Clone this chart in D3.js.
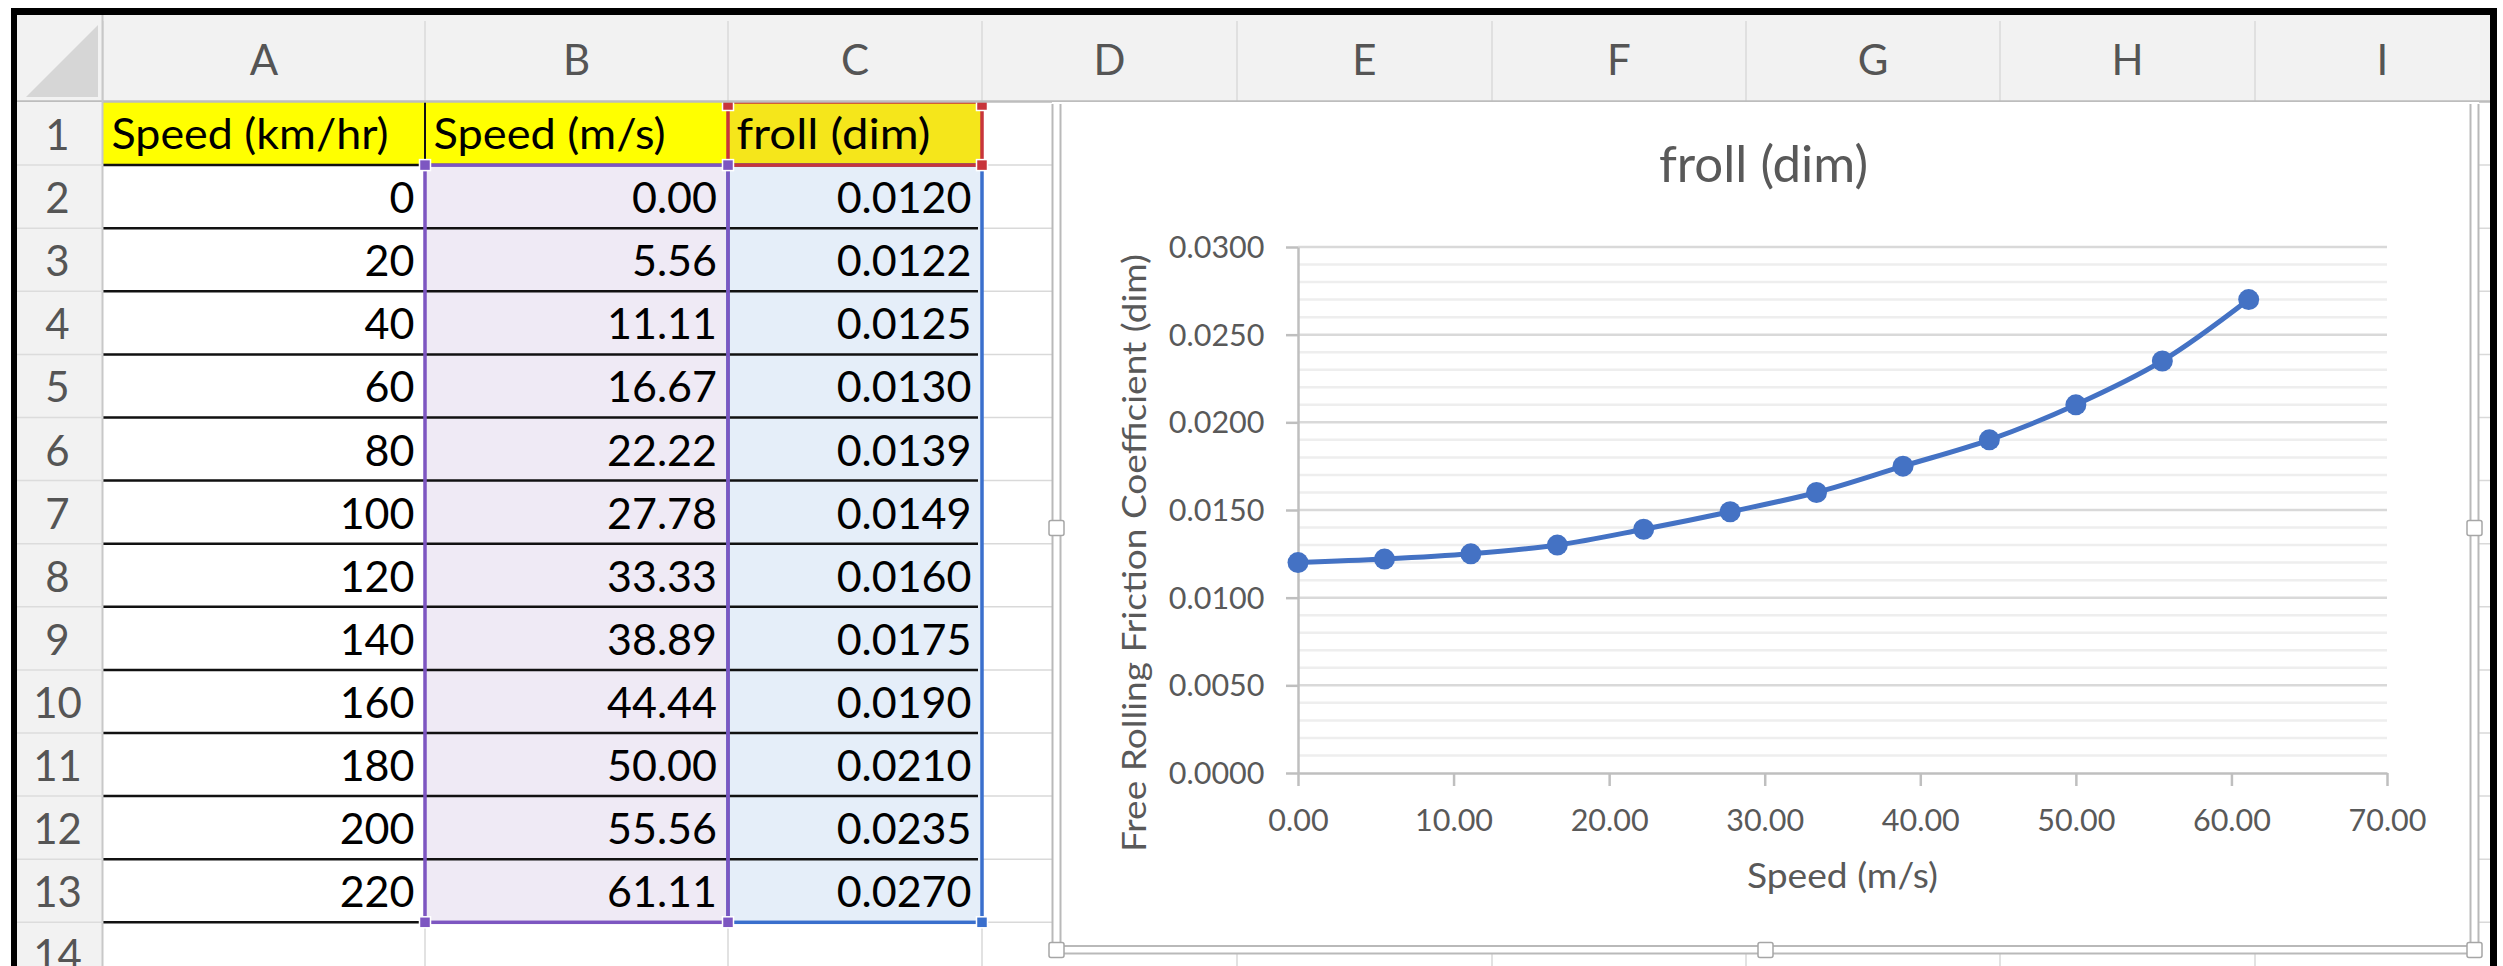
<!DOCTYPE html>
<html>
<head>
<meta charset="utf-8">
<script src="https://cdn.jsdelivr.net/npm/d3@7"></script>
<style>
  html, body { margin: 0; padding: 0; background: #fff; overflow: hidden; }
  svg { display: block; }
</style>
</head>
<body>
<svg id="sheet" width="2503" height="966"></svg>
<script>
// ---- worksheet data ----
const speedKmh = [0, 20, 40, 60, 80, 100, 120, 140, 160, 180, 200, 220];
const speedMs = [0.00, 5.56, 11.11, 16.67, 22.22, 27.78, 33.33, 38.89, 44.44, 50.00, 55.56, 61.11];
const froll = [0.0120, 0.0122, 0.0125, 0.0130, 0.0139, 0.0149, 0.0160, 0.0175, 0.0190, 0.0210, 0.0235, 0.0270];
const columnHeaders = ["Speed (km/hr)", "Speed (m/s)", "froll (dim)"];
const columnLetters = ["A", "B", "C", "D", "E", "F", "G", "H", "I"];
const chartTitle = "froll (dim)";
const xAxisTitle = "Speed (m/s)";
const yAxisTitle = "Free Rolling Friction Coefficient (dim)";
const xTickValues = [0, 10, 20, 30, 40, 50, 60, 70];
const yTickValues = [0, 0.005, 0.010, 0.015, 0.020, 0.025, 0.030];

// ---- layout ----
const W = 2503, H = 966;
const FONT = "Lato, 'Open Sans', sans-serif";
const svg = d3.select("#sheet");

const colEdges = [103, 425, 728, 982, 1237, 1492, 1746, 2000, 2255, 2510];
const sheetLeft = 17, sheetRight = 2490;
const headTop = 15, headBottom = 102, rowH = 63.1;
const rowTop = r => headBottom + (r - 1) * rowH;   // r = 1-based row number
const nRows = speedKmh.length + 1;                   // header row + data rows

svg.append("rect").attr("width", W).attr("height", H).attr("fill", "#fff");

// ---- cell area ----
const cells = svg.append("g");
cells.append("rect")
  .attr("x", colEdges[0]).attr("y", headBottom)
  .attr("width", sheetRight - colEdges[0]).attr("height", H - headBottom)
  .attr("fill", "#fff");

// light gridlines
cells.selectAll("line.vgrid")
  .data(colEdges.slice(1).filter(x => x < sheetRight))
  .join("line").attr("class", "vgrid")
  .attr("x1", d => d).attr("x2", d => d)
  .attr("y1", headBottom).attr("y2", H)
  .attr("stroke", "#d9d9d9").attr("stroke-width", 1.5);
cells.selectAll("line.hgrid")
  .data(d3.range(2, 16))
  .join("line").attr("class", "hgrid")
  .attr("x1", colEdges[0]).attr("x2", sheetRight)
  .attr("y1", d => rowTop(d)).attr("y2", d => rowTop(d))
  .attr("stroke", "#d9d9d9").attr("stroke-width", 1.5);

// fills
cells.append("rect").attr("x", colEdges[0]).attr("y", rowTop(1))
  .attr("width", colEdges[2] - colEdges[0]).attr("height", rowH).attr("fill", "#ffff00");
cells.append("rect").attr("x", colEdges[2]).attr("y", rowTop(1))
  .attr("width", colEdges[3] - colEdges[2]).attr("height", rowH).attr("fill", "#f5e61b");
cells.append("rect").attr("x", colEdges[1]).attr("y", rowTop(2))
  .attr("width", colEdges[2] - colEdges[1]).attr("height", rowTop(nRows + 1) - rowTop(2))
  .attr("fill", "#efeaf5");
cells.append("rect").attr("x", colEdges[2]).attr("y", rowTop(2))
  .attr("width", colEdges[3] - colEdges[2]).attr("height", rowTop(nRows + 1) - rowTop(2))
  .attr("fill", "#e5eef9");

// black cell borders under each row of the table
cells.selectAll("line.border")
  .data(d3.range(2, nRows + 2))
  .join("line").attr("class", "border")
  .attr("x1", colEdges[0]).attr("x2", colEdges[3] - 4)
  .attr("y1", d => rowTop(d)).attr("y2", d => rowTop(d))
  .attr("stroke", "#111").attr("stroke-width", 2.5);
cells.append("line")
  .attr("x1", colEdges[1]).attr("x2", colEdges[1])
  .attr("y1", rowTop(1)).attr("y2", rowTop(2))
  .attr("stroke", "#111").attr("stroke-width", 2);

// header texts
const headerWidths = [277, 232, 194];
cells.selectAll("text.head")
  .data(columnHeaders)
  .join("text").attr("class", "head")
  .attr("x", (d, i) => colEdges[i] + 8.5)
  .attr("y", rowTop(1) + 46.5)
  .attr("textLength", (d, i) => headerWidths[i])
  .attr("lengthAdjust", "spacingAndGlyphs")
  .attr("font-family", FONT).attr("font-size", 43).attr("fill", "#000")
  .text(d => d);

// numeric columns
const tableCols = [
  { values: speedKmh, fmt: d3.format("d"), right: colEdges[1] - 10.5 },
  { values: speedMs, fmt: d3.format(".2f"), right: colEdges[2] - 11 },
  { values: froll, fmt: d3.format(".4f"), right: colEdges[3] - 10.5 }
];
tableCols.forEach(col => {
  cells.append("g").selectAll("text")
    .data(col.values)
    .join("text")
    .attr("x", col.right)
    .attr("y", (d, i) => rowTop(i + 2) + 48)
    .attr("text-anchor", "end")
    .attr("font-family", FONT).attr("font-size", 43).attr("fill", "#000")
    .text(d => col.fmt(d));
});

// highlighted source ranges of the chart
const lastLine = rowTop(nRows + 1);
function rangeBox(x0, x1, y0, y1, color) {
  cells.append("rect")
    .attr("x", x0).attr("y", y0).attr("width", x1 - x0).attr("height", y1 - y0)
    .attr("fill", "none").attr("stroke", color).attr("stroke-width", 3.5);
}
function handles(points, color) {
  cells.append("g").selectAll("rect")
    .data(points).join("rect")
    .attr("x", d => d[0] - 5.5).attr("y", d => d[1] - 5.5)
    .attr("width", 11).attr("height", 11)
    .attr("fill", color).attr("stroke", "#fff").attr("stroke-width", 1.5);
}
const blue = "#3a6fcd", purple = "#7d56c1", red = "#c8353b";
rangeBox(colEdges[2], colEdges[3], rowTop(2), lastLine, blue);
rangeBox(colEdges[2], colEdges[3], rowTop(1), rowTop(2), red);
rangeBox(colEdges[1], colEdges[2], rowTop(2), lastLine, purple);
handles([[colEdges[3], lastLine]], blue);
handles([[colEdges[2], rowTop(1) + 3], [colEdges[3], rowTop(1) + 3], [colEdges[3], rowTop(2)]], red);
handles([[colEdges[1], rowTop(2)], [colEdges[2], rowTop(2)], [colEdges[1], lastLine], [colEdges[2], lastLine]], purple);

// ---- column header band ----
const head = svg.append("g");
head.append("rect").attr("x", sheetLeft).attr("y", headTop)
  .attr("width", sheetRight - sheetLeft).attr("height", headBottom - headTop)
  .attr("fill", "#f2f2f2");
head.selectAll("line.sep")
  .data(colEdges.filter(x => x < sheetRight))
  .join("line").attr("class", "sep")
  .attr("x1", d => d).attr("x2", d => d)
  .attr("y1", headTop + 6).attr("y2", headBottom)
  .attr("stroke", "#dadada").attr("stroke-width", 1.5);
head.selectAll("text")
  .data(columnLetters)
  .join("text")
  .attr("x", (d, i) => (colEdges[i] + colEdges[i + 1]) / 2)
  .attr("y", 75)
  .attr("text-anchor", "middle")
  .attr("font-family", FONT).attr("font-size", 42).attr("fill", "#555")
  .text(d => d);
head.append("line")
  .attr("x1", sheetLeft).attr("x2", sheetRight)
  .attr("y1", headBottom - 0.5).attr("y2", headBottom - 0.5)
  .attr("stroke", "#bdbdbd").attr("stroke-width", 2.5);

// ---- row header column ----
const rowsHead = svg.append("g");
rowsHead.append("rect").attr("x", sheetLeft).attr("y", headBottom)
  .attr("width", colEdges[0] - sheetLeft).attr("height", H - headBottom)
  .attr("fill", "#f2f2f2");
rowsHead.append("line")
  .attr("x1", colEdges[0] - 0.5).attr("x2", colEdges[0] - 0.5)
  .attr("y1", headTop).attr("y2", H)
  .attr("stroke", "#c8c8c8").attr("stroke-width", 2);
rowsHead.selectAll("line.rsep")
  .data(d3.range(2, 16))
  .join("line").attr("class", "rsep")
  .attr("x1", sheetLeft).attr("x2", colEdges[0])
  .attr("y1", d => rowTop(d)).attr("y2", d => rowTop(d))
  .attr("stroke", "#dcdcdc").attr("stroke-width", 1.5);
rowsHead.selectAll("text")
  .data(d3.range(1, 15))
  .join("text")
  .attr("x", 57.5)
  .attr("y", d => rowTop(d) + 48)
  .attr("text-anchor", "middle")
  .attr("font-family", FONT).attr("font-size", 42).attr("fill", "#555")
  .text(d => d);
// select-all corner
svg.append("path").attr("d", "M98,25L98,97L26,97Z").attr("fill", "#d6d6d6");

// ---- embedded chart ----
const chart = svg.append("g");
const cx0 = 1052, cx1 = 2479, cy0 = headBottom, cy1 = 954;
chart.append("rect").attr("x", cx0).attr("y", cy0)
  .attr("width", cx1 - cx0).attr("height", cy1 - cy0).attr("fill", "#fff");

// selection frame (double outline with grab handles)
const frameColor = "#b9b9b9";
[[cx0 + 0.5, cy0 + 2, cx0 + 0.5, cy1], [cx0 + 8.5, cy0 + 2, cx0 + 8.5, cy1 - 8],
 [cx1 - 8.5, cy0 + 2, cx1 - 8.5, cy1 - 8], [cx1 - 0.5, cy0 + 2, cx1 - 0.5, cy1],
 [cx0 + 8.5, cy1 - 8, cx1 - 8.5, cy1 - 8], [cx0, cy1 - 0.5, cx1, cy1 - 0.5]]
  .forEach(s => chart.append("line")
    .attr("x1", s[0]).attr("y1", s[1]).attr("x2", s[2]).attr("y2", s[3])
    .attr("stroke", frameColor).attr("stroke-width", 2));
const hx = [cx0 + 4.5, (cx0 + cx1) / 2, cx1 - 4.5];
const hy = (cy0 + cy1) / 2;
chart.append("g").selectAll("rect")
  .data([[hx[0], hy], [hx[2], hy], [hx[0], cy1 - 4], [hx[1], cy1 - 4], [hx[2], cy1 - 4]])
  .join("rect")
  .attr("x", d => d[0] - 7.5).attr("y", d => d[1] - 7.5)
  .attr("width", 15).attr("height", 15).attr("rx", 2)
  .attr("fill", "#fff").attr("stroke", "#a6a6a6").attr("stroke-width", 1.5);

// scales
const x = d3.scaleLinear().domain([0, 70]).range([1298, 2387]);
const y = d3.scaleLinear().domain([0, 0.03]).range([773, 247]);
const plotX0 = x.range()[0], plotX1 = x.range()[1];

// minor and major gridlines
chart.append("g").selectAll("line")
  .data(y.ticks(30).filter(v => !yTickValues.some(t => Math.abs(t - v) < 1e-9)))
  .join("line")
  .attr("x1", plotX0).attr("x2", plotX1)
  .attr("y1", d => y(d)).attr("y2", d => y(d))
  .attr("stroke", "#eeeeee").attr("stroke-width", 2.5);
chart.append("g").selectAll("line")
  .data(yTickValues.slice(1))
  .join("line")
  .attr("x1", plotX0).attr("x2", plotX1)
  .attr("y1", d => y(d)).attr("y2", d => y(d))
  .attr("stroke", "#d9d9d9").attr("stroke-width", 2.5);

// axes
const axisColor = "#bfbfbf", labelColor = "#595959";
const gx = chart.append("g").attr("transform", `translate(0,${y(0)})`)
  .call(d3.axisBottom(x).tickValues(xTickValues).tickFormat(d3.format(".2f"))
    .tickSize(13).tickSizeOuter(0));
const gy = chart.append("g").attr("transform", `translate(${x(0)},0)`)
  .call(d3.axisLeft(y).tickValues(yTickValues).tickFormat(d3.format(".4f"))
    .tickSize(12).tickSizeOuter(0));
[gx, gy].forEach(g => {
  g.select(".domain").attr("stroke", axisColor).attr("stroke-width", 2.5);
  g.selectAll(".tick line").attr("stroke", axisColor).attr("stroke-width", 2.5);
  g.selectAll("text").attr("font-family", FONT).attr("font-size", 30.5).attr("fill", labelColor);
});
gx.selectAll("text").attr("y", 58).attr("dy", null);
gy.selectAll("text").attr("x", -33.5).attr("dy", "0.34em");

// series line and markers
const pts = speedMs.map((s, i) => [s, froll[i]]);
chart.append("path")
  .datum(pts)
  .attr("d", d3.line().x(d => x(d[0])).y(d => y(d[1])).curve(d3.curveCatmullRom.alpha(0.5)))
  .attr("fill", "none").attr("stroke", "#4472c4").attr("stroke-width", 5)
  .attr("stroke-linejoin", "round").attr("stroke-linecap", "round");
chart.append("g").selectAll("circle")
  .data(pts)
  .join("circle")
  .attr("cx", d => x(d[0])).attr("cy", d => y(d[1])).attr("r", 10.5)
  .attr("fill", "#4472c4");

// titles
chart.append("text")
  .attr("x", (cx0 + cx1) / 2 - 2).attr("y", 181.5)
  .attr("text-anchor", "middle")
  .attr("font-family", FONT).attr("font-size", 51).attr("fill", labelColor)
  .text(chartTitle);
chart.append("text")
  .attr("x", (plotX0 + plotX1) / 2).attr("y", 888)
  .attr("text-anchor", "middle")
  .attr("textLength", 191).attr("lengthAdjust", "spacingAndGlyphs")
  .attr("font-family", FONT).attr("font-size", 35).attr("fill", labelColor)
  .text(xAxisTitle);
chart.append("text")
  .attr("transform", "translate(1146,553) rotate(-90)")
  .attr("text-anchor", "middle")
  .attr("textLength", 598).attr("lengthAdjust", "spacingAndGlyphs")
  .attr("font-family", FONT).attr("font-size", 32).attr("fill", labelColor)
  .text(yAxisTitle);

// ---- outer black frame ----
svg.append("rect").attr("x", 11).attr("y", 8).attr("width", 6).attr("height", H - 8).attr("fill", "#000");
svg.append("rect").attr("x", 11).attr("y", 8).attr("width", 2486).attr("height", 7).attr("fill", "#000");
svg.append("rect").attr("x", 2490).attr("y", 8).attr("width", 7).attr("height", H - 8).attr("fill", "#000");
</script>
</body>
</html>
